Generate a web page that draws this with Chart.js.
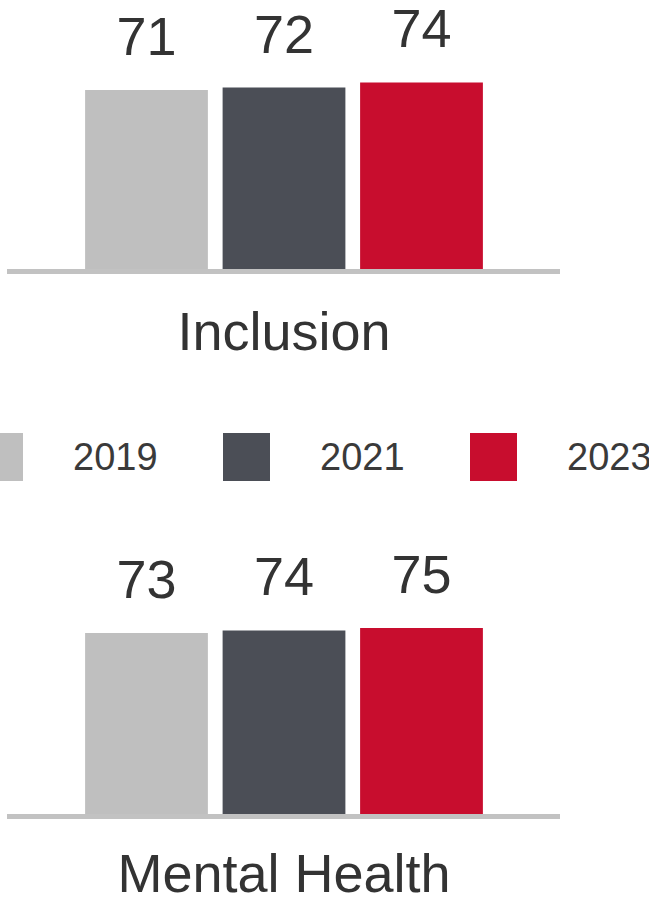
<!DOCTYPE html>
<html>
<head>
<meta charset="utf-8">
<script src="https://cdn.jsdelivr.net/npm/chart.js@4.4.1/dist/chart.umd.min.js"></script>
<style>
  html, body { margin: 0; padding: 0; background: #fff; overflow: hidden; }
  body { width: 649px; height: 903px; position: relative; font-family: "Liberation Sans", Arial, sans-serif; }
  canvas { position: absolute; left: 0; }
  #chartTop { top: 0; }
  #chartBottom { top: 546px; }
  #legend { position: absolute; top: 433px; left: 0; width: 649px; height: 48px; }
  .item { position: absolute; top: 0; height: 48px; }
  .box { position: absolute; top: 0; width: 47px; height: 48px; }
  .txt { position: absolute; left: 97px; top: 4px; font-size: 38px; line-height: 40px; color: #3a3a3a; }
</style>
</head>
<body>
<canvas id="chartTop" width="649" height="414"></canvas>
<div id="legend"></div>
<canvas id="chartBottom" width="649" height="410"></canvas>
<script>
const years = ['2019', '2021', '2023'];
const inclusionValues = [71, 72, 74];
const mentalHealthValues = [73, 74, 75];

const barColors = ['#bfbfbf', '#4b4e56', '#c80d2e'];
const textColor = '#333333';
const fontFamily = '"Liberation Sans", Arial, sans-serif';

// value labels above each bar
const valueLabels = {
    id: 'valueLabels',
    afterDatasetsDraw(chart) {
        const ctx = chart.ctx;
        ctx.save();
        ctx.font = '54px ' + fontFamily;
        ctx.fillStyle = textColor;
        ctx.textAlign = 'center';
        ctx.textBaseline = 'alphabetic';
        chart.data.datasets.forEach((ds, i) => {
            chart.getDatasetMeta(i).data.forEach((bar, j) => {
                ctx.fillText(ds.data[j], bar.x, bar.y - 35);
            });
        });
        ctx.restore();
    }
};

function makeChart(id, category, values, pad) {
    const ctx = document.getElementById(id).getContext('2d');
    return new Chart(ctx, {
        type: 'bar',
        data: {
            labels: [category],
            datasets: years.map((y, i) => ({
                label: y,
                data: [values[i]],
                backgroundColor: barColors[i],
                borderWidth: 0,
                categoryPercentage: 0.75,
                barPercentage: 0.893
            }))
        },
        options: {
            responsive: false,
            animation: false,
            devicePixelRatio: 1,
            layout: { padding: { left: 9, right: 90, top: pad.top, bottom: pad.bottom } },
            plugins: { legend: { display: false }, tooltip: { enabled: false } },
            scales: {
                x: {
                    grid: { display: false, drawTicks: false },
                    border: { color: '#c2c2c2', width: 5, z: 1 },
                    ticks: { color: textColor, padding: pad.ticks, font: { size: 54, family: fontFamily } }
                },
                y: { display: false, min: 0, max: 100 }
            }
        },
        plugins: [valueLabels]
    });
}

makeChart('chartTop', 'Inclusion', inclusionValues, { top: 16, bottom: 14.7, ticks: 31.5 });
makeChart('chartBottom', 'Mental Health', mentalHealthValues, { top: 19, bottom: 18.7, ticks: 28 });

// legend, partly cut off on the left like the source image
const legend = document.getElementById('legend');
years.forEach((y, i) => {
    const item = document.createElement('div');
    item.className = 'item';
    item.style.left = (-24 + i * 247) + 'px';
    const box = document.createElement('div');
    box.className = 'box';
    box.style.background = barColors[i];
    const txt = document.createElement('div');
    txt.className = 'txt';
    txt.textContent = y;
    item.appendChild(box);
    item.appendChild(txt);
    legend.appendChild(item);
});
</script>
</body>
</html>
